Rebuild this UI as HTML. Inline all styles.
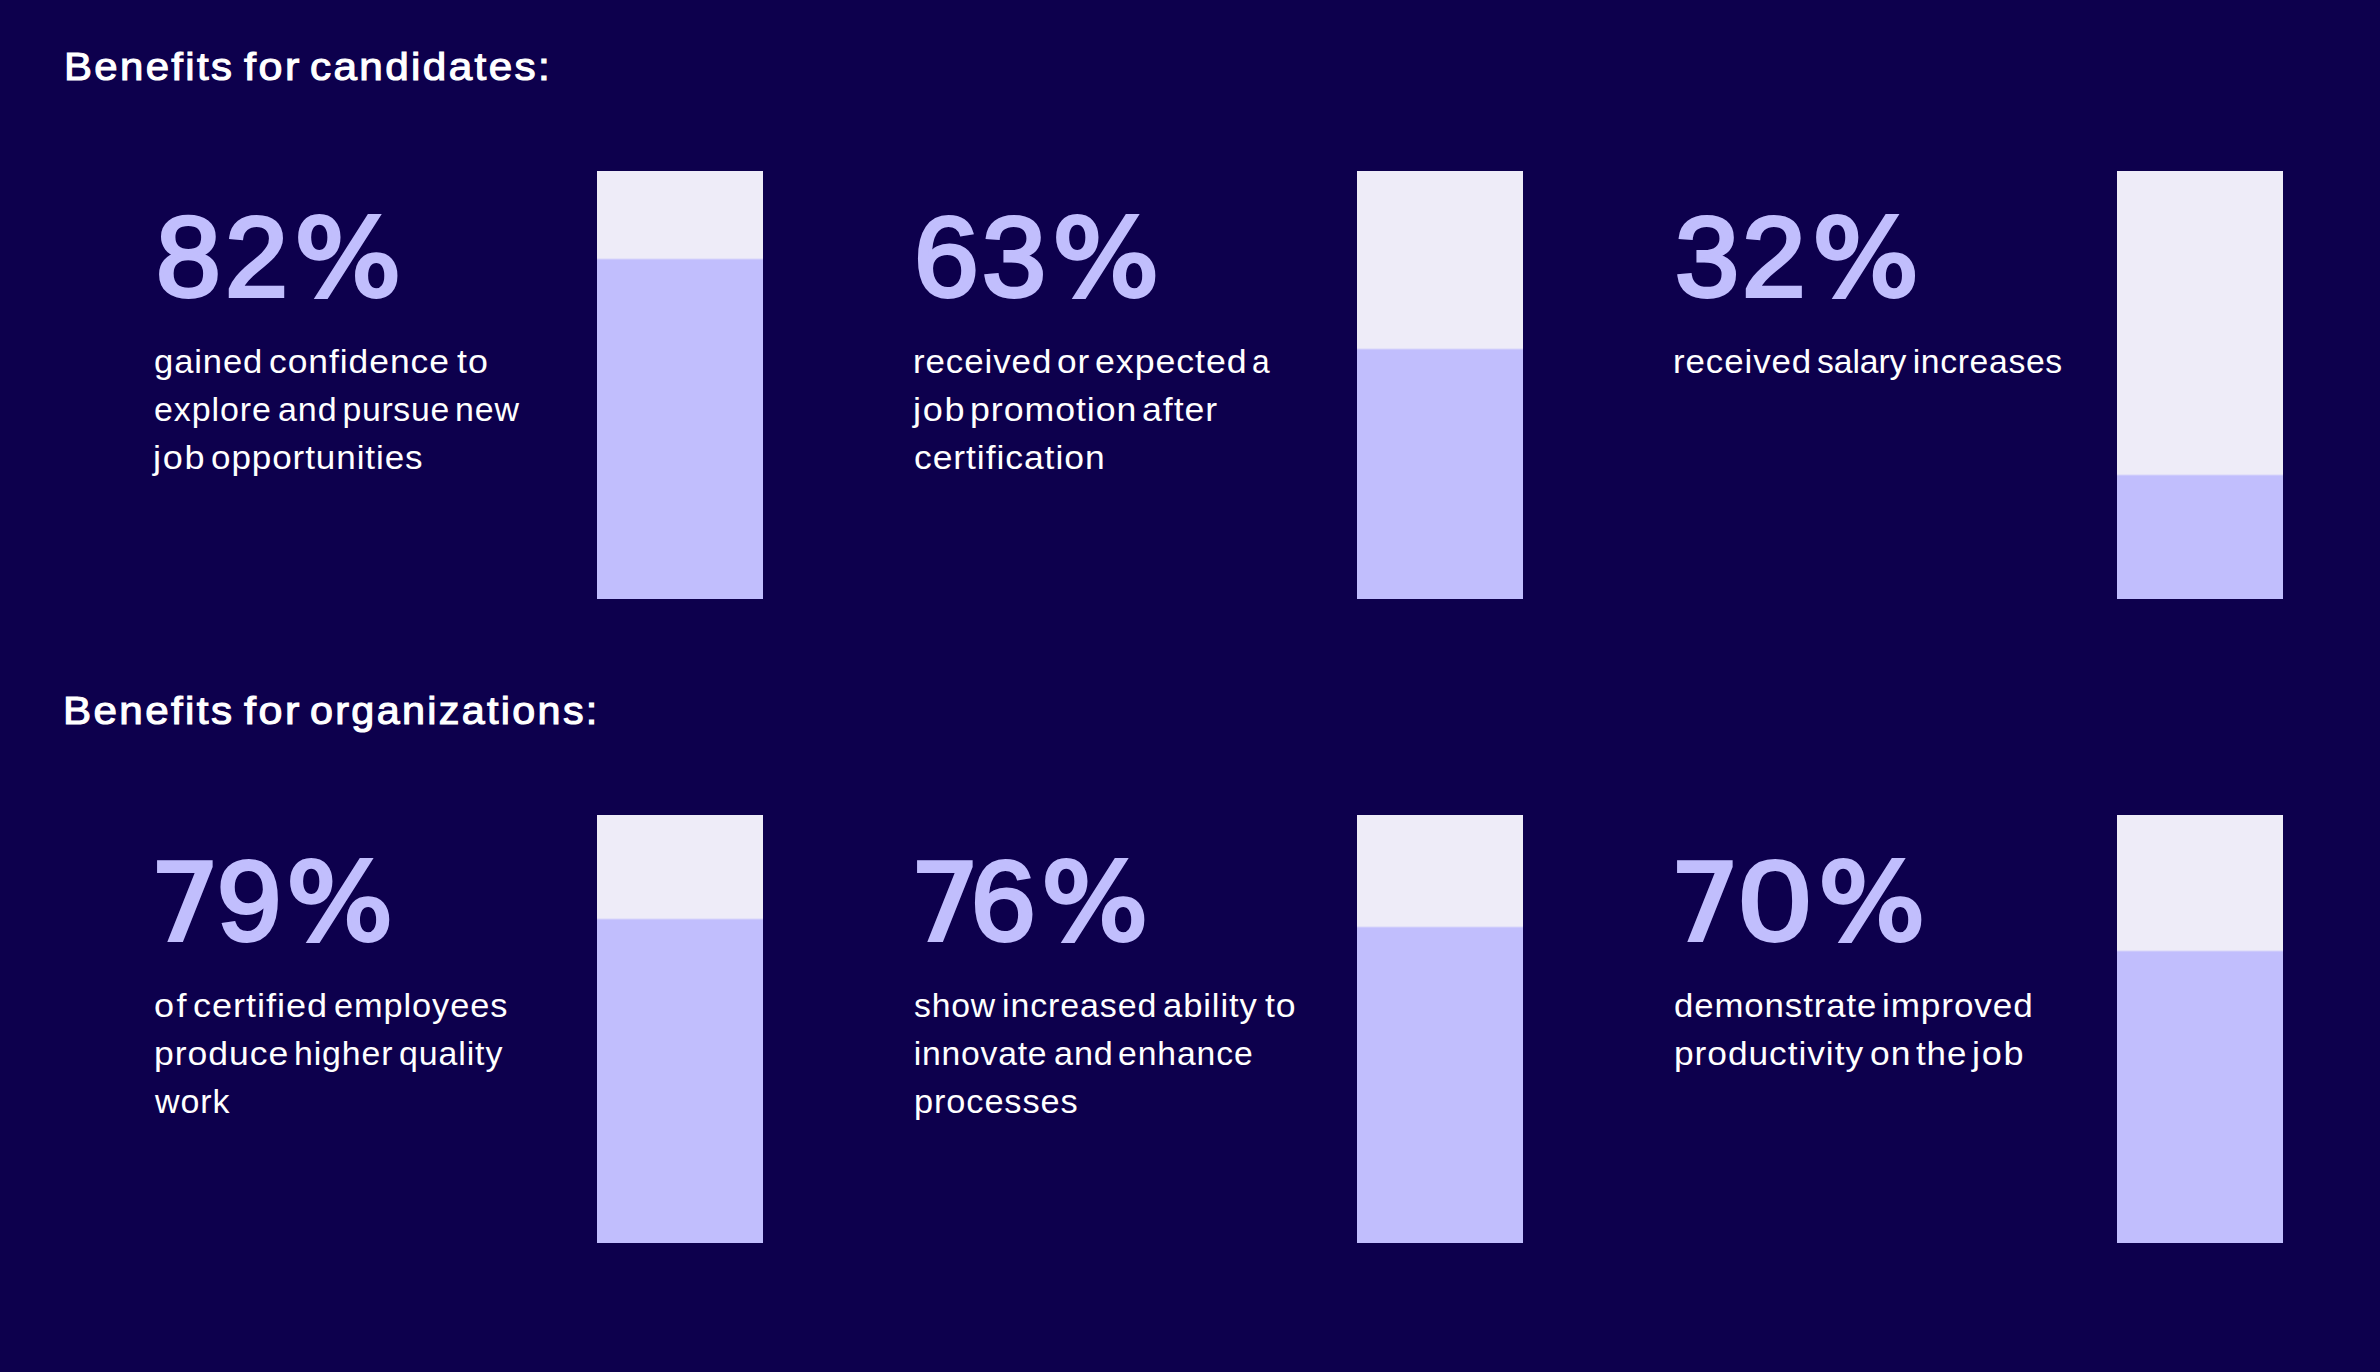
<!DOCTYPE html>
<html lang="en"><head><meta charset="utf-8"><title>Benefits of certification</title>
<style>
html,body{margin:0;padding:0}
body{width:2380px;height:1372px;background:#0d004d;position:relative;overflow:hidden;font-family:"Liberation Sans",sans-serif}
.bar{position:absolute;width:166px;height:428px;background:#eeecf8}
.bar i{position:absolute;left:0;right:0;bottom:0;background:#c1befd;display:block;box-sizing:border-box;border-top:1px solid #ccc9fc;box-shadow:0 -1px 0 #e3e1f9}
.l{position:absolute;white-space:nowrap;line-height:1;margin:0}
.l span{position:absolute;top:0;display:block;transform-origin:0 0}
h2.l,p .l{width:500px;display:block}
p{margin:0}
.h{color:#fff;font-weight:400;font-size:39.2px;height:39.2px;-webkit-text-stroke:1.1px #fff}
.n{color:#c1befd;width:300px;height:130px;-webkit-text-stroke-color:#c1befd}
.n span{position:absolute;transform-origin:0 0;display:block;line-height:1}
.n .d{font-family:"Liberation Sans",sans-serif;font-weight:400;font-size:112.7px;-webkit-text-stroke-width:3.8px}
.n .p{font-family:"DejaVu Sans","Liberation Sans",sans-serif;font-weight:400;font-size:106.9px;-webkit-text-stroke-width:4.0px}
.n .s{font-family:"DejaVu Sans","Liberation Sans",sans-serif;font-weight:400;font-size:107.5px;-webkit-text-stroke-width:3.8px}
.t{color:#fff;font-weight:400;font-size:33.7px;height:33.7px}

</style></head><body>
<main>
<section>
<h2 class="l h" style="left:56.80px;top:46.72px"><span style="left:7.00px;letter-spacing:2.200px;transform:scaleX(1.0700)">Benefits</span> <span style="left:187.17px;letter-spacing:2.337px;transform:scaleX(1.1000)">for</span> <span style="left:252.99px;letter-spacing:2.200px;transform:scaleX(1.0782)">candidates:</span></h2>
<article>
<div class="l n" style="left:139.60px;top:188.00px"><span class="d" style="left:16.90px;top:12.68px;transform:scaleX(1.0338)">8</span><span class="d" style="left:85.21px;top:12.68px;transform:scaleX(1.0047)">2</span><span class="p" style="left:153.97px;top:17.34px;transform:scaleX(1.0589)">%</span></div>
<p><span class="l t" style="left:145.50px;top:345.27px"><span style="left:8.38px;letter-spacing:0.900px;transform:scaleX(1.0250)">gained</span> <span style="left:123.32px;letter-spacing:0.900px;transform:scaleX(1.0518)">confidence</span> <span style="left:311.93px;letter-spacing:0.900px;transform:scaleX(1.0620)">to</span></span> <span class="l t" style="left:145.50px;top:393.27px"><span style="left:8.27px;letter-spacing:0.900px;transform:scaleX(1.0083)">explore</span> <span style="left:132.34px;letter-spacing:0.900px;transform:scaleX(1.0101)">and</span> <span style="left:196.88px;letter-spacing:0.767px;transform:scaleX(1.0000)">pursue</span> <span style="left:309.60px;letter-spacing:0.900px;transform:scaleX(1.0059)">new</span></span> <span class="l t" style="left:142.10px;top:441.27px"><span style="left:11.02px;letter-spacing:1.603px;transform:scaleX(1.0700)">job</span> <span style="left:69.36px;letter-spacing:0.900px;transform:scaleX(1.0389)">opportunities</span></span></p>
<div class="bar" style="left:597px;top:171px"><i style="height:340px"></i></div>
</article>
<article>
<div class="l n" style="left:898.40px;top:188.00px"><span class="d" style="left:16.05px;top:12.68px;transform:scaleX(1.0322)">6</span><span class="d" style="left:83.45px;top:12.68px;transform:scaleX(1.0221)">3</span><span class="p" style="left:153.58px;top:17.34px;transform:scaleX(1.0578)">%</span></div>
<p><span class="l t" style="left:905.50px;top:345.27px"><span style="left:7.51px;letter-spacing:0.900px;transform:scaleX(1.0347)">received</span> <span style="left:151.46px;letter-spacing:0.900px;transform:scaleX(1.0459)">or</span> <span style="left:189.87px;letter-spacing:0.900px;transform:scaleX(1.0603)">expected</span> <span style="left:346.51px;letter-spacing:0.900px;transform:scaleX(0.9400)">a</span></span> <span class="l t" style="left:902.10px;top:393.27px"><span style="left:11.02px;letter-spacing:1.603px;transform:scaleX(1.0700)">job</span> <span style="left:67.72px;letter-spacing:0.900px;transform:scaleX(1.0600)">promotion</span> <span style="left:239.92px;letter-spacing:0.900px;transform:scaleX(1.0589)">after</span></span> <span class="l t" style="left:905.50px;top:441.27px"><span style="left:8.92px;letter-spacing:0.900px;transform:scaleX(1.0520)">certification</span></span></p>
<div class="bar" style="left:1357px;top:171px"><i style="height:250px"></i></div>
</article>
<article>
<div class="l n" style="left:1657.50px;top:188.00px"><span class="d" style="left:17.55px;top:12.68px;transform:scaleX(1.0239)">3</span><span class="d" style="left:84.77px;top:12.68px;transform:scaleX(1.0156)">2</span><span class="p" style="left:154.19px;top:17.34px;transform:scaleX(1.0546)">%</span></div>
<p><span class="l t" style="left:1665.50px;top:345.27px"><span style="left:7.53px;letter-spacing:0.900px;transform:scaleX(1.0339)">received</span> <span style="left:151.53px;letter-spacing:-0.098px;transform:scaleX(1.0000)">salary</span> <span style="left:247.20px;letter-spacing:0.658px;transform:scaleX(1.0000)">increases</span></span></p>
<div class="bar" style="left:2117px;top:171px"><i style="height:124px"></i></div>
</article>
</section>
<section>
<h2 class="l h" style="left:56.00px;top:690.72px"><span style="left:7.31px;letter-spacing:2.200px;transform:scaleX(1.0767)">Benefits</span> <span style="left:187.97px;letter-spacing:2.337px;transform:scaleX(1.1000)">for</span> <span style="left:254.32px;letter-spacing:2.200px;transform:scaleX(1.0541)">organizations:</span></h2>
<article>
<div class="l n" style="left:136.70px;top:832.00px"><span class="s" style="left:12.91px;top:17.13px;transform:scaleX(1.0242)">7</span><span class="d" style="left:79.92px;top:12.68px;transform:scaleX(1.0276)">9</span><span class="p" style="left:149.48px;top:17.34px;transform:scaleX(1.0567)">%</span></div>
<p><span class="l t" style="left:145.50px;top:989.27px"><span style="left:8.73px;letter-spacing:2.372px;transform:scaleX(1.0700)">of</span> <span style="left:47.60px;letter-spacing:0.900px;transform:scaleX(1.0710)">certified</span> <span style="left:188.03px;letter-spacing:0.900px;transform:scaleX(1.0187)">employees</span></span> <span class="l t" style="left:146.00px;top:1037.27px"><span style="left:8.12px;letter-spacing:0.900px;transform:scaleX(1.0551)">produce</span> <span style="left:148.29px;letter-spacing:0.900px;transform:scaleX(1.0035)">higher</span> <span style="left:252.59px;letter-spacing:0.900px;transform:scaleX(1.0057)">quality</span></span> <span class="l t" style="left:145.10px;top:1085.27px"><span style="left:10.19px;letter-spacing:0.900px;transform:scaleX(1.0081)">work</span></span></p>
<div class="bar" style="left:597px;top:815px"><i style="height:324px"></i></div>
</article>
<article>
<div class="l n" style="left:896.70px;top:832.00px"><span class="s" style="left:12.91px;top:17.13px;transform:scaleX(1.0242)">7</span><span class="d" style="left:74.06px;top:12.68px;transform:scaleX(1.0304)">6</span><span class="p" style="left:143.98px;top:17.34px;transform:scaleX(1.0578)">%</span></div>
<p><span class="l t" style="left:905.50px;top:989.27px"><span style="left:8.61px;letter-spacing:0.785px;transform:scaleX(1.0000)">show</span> <span style="left:96.47px;letter-spacing:0.900px;transform:scaleX(1.0074)">increased</span> <span style="left:257.40px;letter-spacing:0.900px;transform:scaleX(1.0252)">ability</span> <span style="left:359.14px;letter-spacing:0.900px;transform:scaleX(1.0570)">to</span></span> <span class="l t" style="left:906.00px;top:1037.27px"><span style="left:7.68px;letter-spacing:0.788px;transform:scaleX(1.0000)">innovate</span> <span style="left:147.61px;letter-spacing:0.900px;transform:scaleX(1.0141)">and</span> <span style="left:212.25px;letter-spacing:0.900px;transform:scaleX(1.0004)">enhance</span></span> <span class="l t" style="left:906.00px;top:1085.27px"><span style="left:7.53px;letter-spacing:0.900px;transform:scaleX(1.0181)">processes</span></span></p>
<div class="bar" style="left:1357px;top:815px"><i style="height:316px"></i></div>
</article>
<article>
<div class="l n" style="left:1656.70px;top:832.00px"><span class="s" style="left:12.91px;top:17.13px;transform:scaleX(1.0242)">7</span><span class="d" style="left:82.23px;top:12.68px;transform:scaleX(1.1478)">0</span><span class="p" style="left:161.28px;top:17.34px;transform:scaleX(1.0578)">%</span></div>
<p><span class="l t" style="left:1665.50px;top:989.27px"><span style="left:8.29px;letter-spacing:0.900px;transform:scaleX(1.0310)">demonstrate</span> <span style="left:216.65px;letter-spacing:0.900px;transform:scaleX(1.0406)">improved</span></span> <span class="l t" style="left:1666.00px;top:1037.27px"><span style="left:8.19px;letter-spacing:0.900px;transform:scaleX(1.0488)">productivity</span> <span style="left:203.78px;letter-spacing:0.900px;transform:scaleX(1.0506)">on</span> <span style="left:250.11px;letter-spacing:0.900px;transform:scaleX(1.0354)">the</span> <span style="left:305.52px;letter-spacing:1.603px;transform:scaleX(1.0700)">job</span></span></p>
<div class="bar" style="left:2117px;top:815px"><i style="height:292px"></i></div>
</article>
</section>
</main>
</body></html>
